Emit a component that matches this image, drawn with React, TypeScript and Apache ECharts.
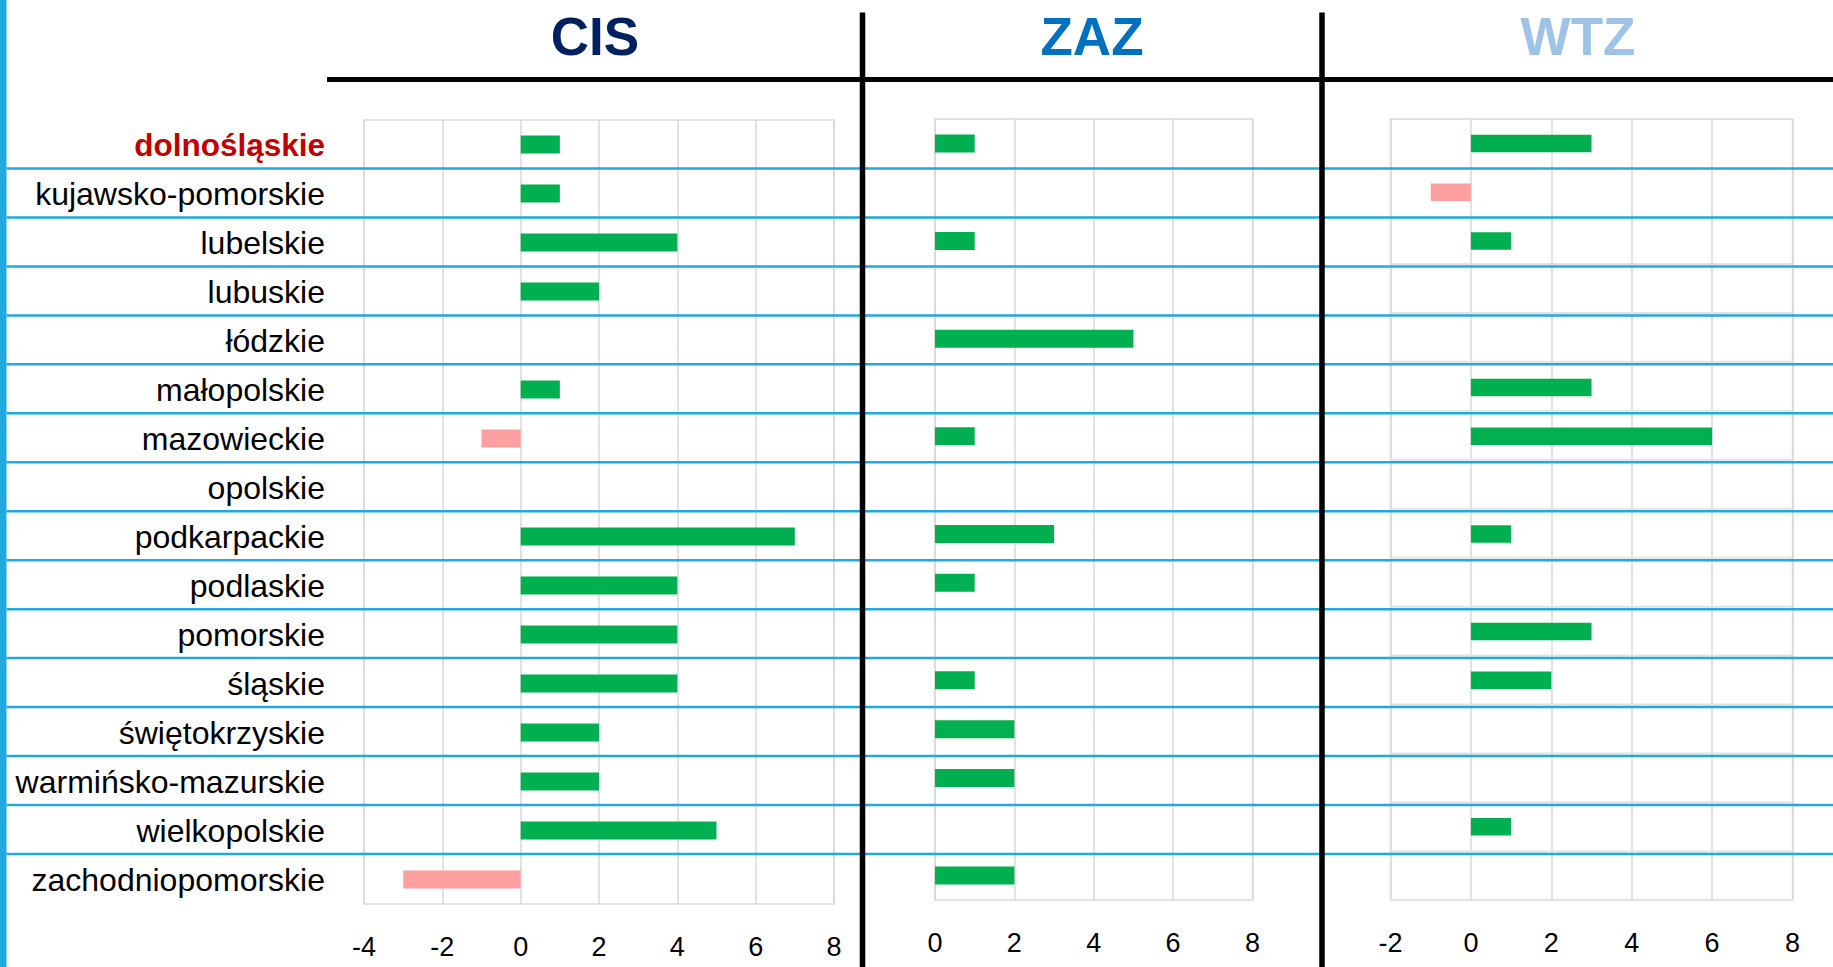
import React, { useEffect, useRef } from "react";
import * as echarts from "echarts";

const categories = [
  "dolnośląskie",
  "kujawsko-pomorskie",
  "lubelskie",
  "lubuskie",
  "łódzkie",
  "małopolskie",
  "mazowieckie",
  "opolskie",
  "podkarpackie",
  "podlaskie",
  "pomorskie",
  "śląskie",
  "świętokrzyskie",
  "warmińsko-mazurskie",
  "wielkopolskie",
  "zachodniopomorskie",
];

const cisValues = [1, 1, 4, 2, 0, 1, -1, 0, 7, 4, 4, 4, 2, 2, 5, -3];
const zazValues = [1, 0, 1, 0, 5, 0, 1, 0, 3, 1, 0, 1, 2, 2, 0, 2];
const wtzValues = [3, -1, 1, 0, 0, 3, 6, 0, 1, 0, 3, 2, 0, 0, 1, 0];

const panelTitles = ["CIS", "ZAZ", "WTZ"];
const titleColors = ["#002060", "#0070C0", "#9DC3E6"];
const axisMins = [-4, 0, -2];
const axisMax = 8;
const axisInterval = 2;

const GREEN = "#00B050";
const PINK = "#FFA0A0";
const BLUE_LINE = "#20A9E1";
const GRID_GRAY = "#D9D9D9";
const FONT = '"Liberation Sans", Arial, sans-serif';

export default function App() {
  const ref = useRef<HTMLDivElement>(null);

  useEffect(() => {
    if (!ref.current) return;
    const chart = echarts.init(ref.current, null, { renderer: "svg" });

    const grids = [
      { left: 364, top: 120, width: 470, height: 784 },
      { left: 935, top: 119, width: 317.5, height: 781 },
      { left: 1390.5, top: 119, width: 402, height: 781 },
    ];
    const barWidths = [18, 18, 17.5];
    const seriesValues = [cisValues, zazValues, wtzValues];

    const xAxes = grids.map((_, i) => ({
      type: "value",
      gridIndex: i,
      min: axisMins[i],
      max: axisMax,
      interval: axisInterval,
      axisLine: { show: false },
      axisTick: { show: false },
      splitLine: { show: true, lineStyle: { color: GRID_GRAY, width: 1.5 } },
      axisLabel: {
        margin: 29,
        fontSize: 27,
        color: "#000",
        fontFamily: FONT,
      },
    }));

    const yAxes = grids.map((_, i) => ({
      type: "category",
      gridIndex: i,
      data: categories,
      inverse: true,
      axisLine: { show: false },
      axisTick: { show: false },
      splitLine: { show: false },
      axisLabel:
        i === 0
          ? {
              show: true,
              margin: 39,
              fontSize: 32,
              color: "#000",
              fontFamily: FONT,
              formatter: (v: string, idx: number) =>
                idx === 0 ? `{red|${v}}` : v,
              rich: {
                red: {
                  color: "#C00000",
                  fontWeight: "bold",
                  fontSize: 31.5,
                  fontFamily: FONT,
                },
              },
            }
          : { show: false },
    }));

    const series = seriesValues.map((vals, i) => ({
      type: "bar",
      xAxisIndex: i,
      yAxisIndex: i,
      barWidth: barWidths[i],
      data: vals.map((v) => ({
        value: v,
        itemStyle: { color: v < 0 ? PINK : GREEN },
      })),
    }));

    const graphics: any[] = [];
    // left stripe
    graphics.push({
      type: "rect",
      shape: { x: 0, y: 0, width: 6.5, height: 967 },
      style: { fill: BLUE_LINE },
      z: 100,
    });
    // faint gray artifact lines in WTZ panel
    for (let k = 3; k <= 15; k++) {
      const y = 168.5 + 48.96 * (k - 1) - 2.5;
      graphics.push({
        type: "line",
        shape: { x1: 1390.5, y1: y, x2: 1792.5, y2: y },
        style: { stroke: "#E2E2E2", lineWidth: 2 },
        z: 99,
      });
    }
    // blue row separators
    for (let k = 1; k <= 15; k++) {
      const y = 168.5 + 48.96 * (k - 1);
      graphics.push({
        type: "line",
        shape: { x1: 6.5, y1: y, x2: 1833, y2: y },
        style: { stroke: BLUE_LINE, lineWidth: 2.5 },
        z: 100,
      });
    }
    // black frame lines
    graphics.push({
      type: "line",
      shape: { x1: 327, y1: 79.5, x2: 1833, y2: 79.5 },
      style: { stroke: "#000", lineWidth: 5 },
      z: 110,
    });
    [862.5, 1322].forEach((x) => {
      graphics.push({
        type: "line",
        shape: { x1: x, y1: 12.5, x2: x, y2: 967 },
        style: { stroke: "#000", lineWidth: 5.5 },
        z: 110,
      });
    });
    // titles
    const titleX = [595, 1092, 1578];
    panelTitles.forEach((t, i) => {
      graphics.push({
        type: "text",
        x: titleX[i],
        y: 36,
        style: {
          text: t,
          font: `bold 53px ${FONT}`,
          fill: titleColors[i],
          textAlign: "center",
          textVerticalAlign: "middle",
          align: "center",
          verticalAlign: "middle",
        },
        z: 110,
      });
    });

    chart.setOption({
      animation: false,
      backgroundColor: "#fff",
      grid: grids.map((g) => ({
        ...g,
        show: true,
        borderColor: GRID_GRAY,
        borderWidth: 1.5,
        backgroundColor: "transparent",
        containLabel: false,
      })),
      xAxis: xAxes,
      yAxis: yAxes,
      series,
      graphic: { elements: graphics },
    });

    return () => chart.dispose();
  }, []);

  return (
    <div
      ref={ref}
      style={{ position: "absolute", left: 0, top: 0, width: 1833, height: 967 }}
    />
  );
}
